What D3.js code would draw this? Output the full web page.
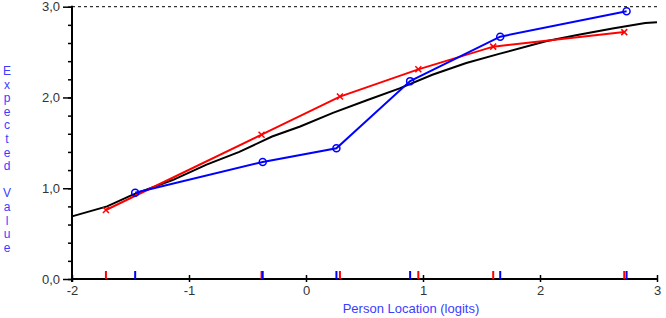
<!DOCTYPE html>
<html>
<head>
<meta charset="utf-8">
<script src="https://cdn.jsdelivr.net/npm/d3@7"></script>
<style>
  body { margin: 0; background: #fff; }
  svg { font-family: "Liberation Sans", Arial, sans-serif; }
</style>
</head>
<body>
<div id="chart"></div>
<script>
// Chart size
var svgWidth = 666;
var svgHeight = 318;

// Expected value curve
var curveLoc = [-2, -1.7, -1.48, -1.14, -0.85, -0.57, -0.29, -0.05, 0.23, 0.52, 0.8, 1.08, 1.37, 1.65, 2.05, 2.33, 2.62, 2.9, 3];
var curveVal = [0.69, 0.8, 0.93, 1.09, 1.26, 1.4, 1.57, 1.68, 1.83, 1.97, 2.1, 2.25, 2.38, 2.48, 2.62, 2.69, 2.76, 2.82, 2.83];

// Observed means, blue class intervals
var blueLoc = [-1.46, -0.37, 0.26, 0.89, 1.66, 2.74];
var blueVal = [0.95, 1.29, 1.44, 2.18, 2.67, 2.95];

// Observed means, red class intervals
var redLoc = [-1.71, -0.38, 0.29, 0.96, 1.6, 2.72];
var redVal = [0.76, 1.59, 2.01, 2.31, 2.56, 2.72];

var xTicks = [-2, -1, 0, 1, 2, 3];
var yTicks = [0, 1, 2, 3];
var maxScore = 3;

var svg = d3.select("#chart")
  .append("svg")
  .attr("width", svgWidth)
  .attr("height", svgHeight);

// Scales
var xScale = d3.scaleLinear().domain([-2, 3]).range([72, 657]);
var yScale = d3.scaleLinear().domain([0, 3]).range([279, 6.7]);

var commaFmt = d3.formatLocale({decimal: ",", thousands: ".", grouping: [3], currency: ["", ""]}).format(".1f");

// Dashed max score line
svg.append("line")
  .attr("x1", xScale(-2)).attr("x2", xScale(3))
  .attr("y1", yScale(maxScore)).attr("y2", yScale(maxScore))
  .attr("stroke", "#000")
  .attr("stroke-width", 1)
  .attr("stroke-dasharray", "3,3");

// Y axis: minor ticks then major ticks
svg.append("g")
  .attr("transform", `translate(${xScale(-2)},0)`)
  .call(d3.axisLeft(yScale).tickValues(d3.range(0, 3.01, 0.2)).tickSize(4).tickFormat(""))
  .call(g => g.select(".domain").remove())
  .call(g => g.selectAll("line").attr("stroke-width", 1.5));

var yAxis = svg.append("g")
  .attr("transform", `translate(${xScale(-2)},0)`)
  .call(d3.axisLeft(yScale).tickValues(yTicks).tickSize(9).tickPadding(3).tickFormat(commaFmt));
yAxis.select(".domain").attr("stroke-width", 2).attr("d", `M0,${yScale(3) - 1}V${yScale(0) + 3}`);
yAxis.selectAll("line").attr("stroke-width", 1.5);
yAxis.selectAll("text").attr("fill", "#333").style("font-size", "13px");

// X axis with ticks crossing the line
svg.append("g")
  .attr("transform", `translate(0,${yScale(0)})`)
  .call(d3.axisTop(xScale).tickValues(xTicks).tickSize(4).tickFormat(""))
  .call(g => g.select(".domain").remove())
  .call(g => g.selectAll("line").attr("stroke-width", 1.5));

var xAxis = svg.append("g")
  .attr("transform", `translate(0,${yScale(0)})`)
  .call(d3.axisBottom(xScale).tickValues(xTicks).tickSize(3).tickPadding(4).tickFormat(d => String(d)));
xAxis.select(".domain").attr("stroke-width", 2).attr("d", `M${xScale(-2)},0H${xScale(3) + 1}`);
xAxis.selectAll("line").attr("stroke-width", 1.5);
xAxis.selectAll("text").attr("fill", "#333").style("font-size", "13px");

// Rug marks for class interval locations
svg.selectAll(".rugRed")
  .data(redLoc)
  .enter()
  .append("line")
  .attr("x1", d => xScale(d)).attr("x2", d => xScale(d))
  .attr("y1", yScale(0) - 8).attr("y2", yScale(0))
  .attr("stroke", "#ff0000")
  .attr("stroke-width", 2);

svg.selectAll(".rugBlue")
  .data(blueLoc)
  .enter()
  .append("line")
  .attr("x1", d => xScale(d)).attr("x2", d => xScale(d))
  .attr("y1", yScale(0) - 8).attr("y2", yScale(0))
  .attr("stroke", "#0000ff")
  .attr("stroke-width", 2);

var line = d3.line()
  .x(d => xScale(d[0]))
  .y(d => yScale(d[1]));

// Expected value curve
svg.append("path")
  .datum(d3.zip(curveLoc, curveVal))
  .attr("d", line)
  .attr("fill", "none")
  .attr("stroke", "#000")
  .attr("stroke-width", 2);

// Red series with crosses
var redPts = d3.zip(redLoc, redVal);
svg.append("path")
  .datum(redPts)
  .attr("d", line)
  .attr("fill", "none")
  .attr("stroke", "#ff0000")
  .attr("stroke-width", 2);

svg.selectAll(".redMark")
  .data(redPts)
  .enter()
  .append("path")
  .attr("d", d => {
    var x = xScale(d[0]), y = yScale(d[1]);
    return `M${x - 3},${y - 3}L${x + 3},${y + 3}M${x - 3},${y + 3}L${x + 3},${y - 3}`;
  })
  .attr("stroke", "#ff0000")
  .attr("stroke-width", 1.5);

// Blue series with circles
var bluePts = d3.zip(blueLoc, blueVal);
svg.append("path")
  .datum(bluePts)
  .attr("d", line)
  .attr("fill", "none")
  .attr("stroke", "#0000ff")
  .attr("stroke-width", 2);

svg.selectAll(".blueMark")
  .data(bluePts)
  .enter()
  .append("circle")
  .attr("cx", d => xScale(d[0]))
  .attr("cy", d => yScale(d[1]))
  .attr("r", 3.5)
  .attr("fill", "none")
  .attr("stroke", "#0000ff")
  .attr("stroke-width", 1.5);

// Y axis label, letters stacked
var yLabel = svg.append("text")
  .attr("fill", "#3c3cff")
  .style("font-size", "12px")
  .attr("text-anchor", "middle");
var step = 13.6;
"Expected Value".split("").forEach(function(ch, i) {
  if (ch === " ") return;
  yLabel.append("tspan")
    .attr("x", 7)
    .attr("y", 75 + i * step)
    .text(ch);
});

// X axis label
svg.append("text")
  .attr("x", 411)
  .attr("y", 313)
  .attr("text-anchor", "middle")
  .attr("fill", "#3c3cff")
  .style("font-size", "13px")
  .text("Person Location (logits)");
</script>
</body>
</html>
